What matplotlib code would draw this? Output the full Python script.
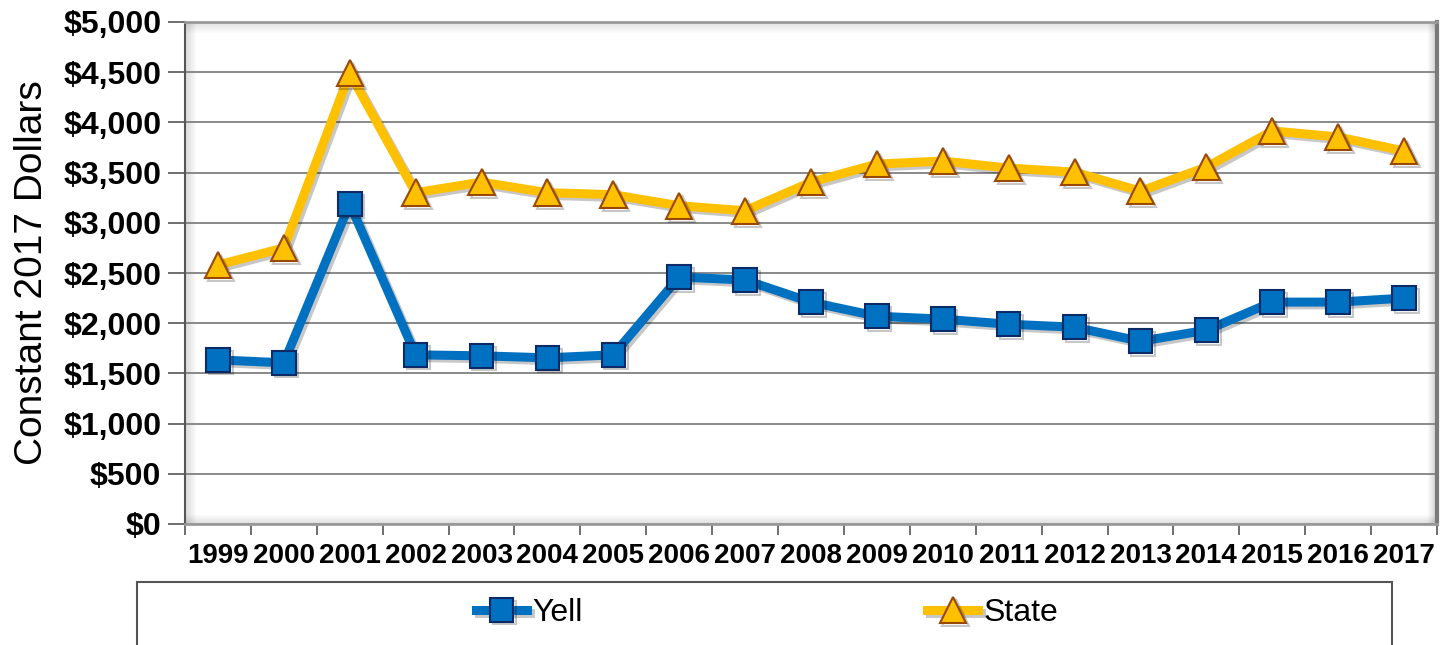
import matplotlib
matplotlib.use('Agg')
import matplotlib.pyplot as plt
import matplotlib.patheffects as pe
from matplotlib.patches import Rectangle
from matplotlib.ticker import FuncFormatter, FixedLocator

years = ['1999', '2000', '2001', '2002', '2003', '2004', '2005', '2006', '2007', '2008',
         '2009', '2010', '2011', '2012', '2013', '2014', '2015', '2016', '2017']
yell = [1635, 1605, 3190, 1685, 1675, 1655, 1685, 2460, 2430, 2210,
        2070, 2040, 1990, 1960, 1820, 1930, 2210, 2210, 2250]
state = [2580, 2750, 4490, 3300, 3405, 3300, 3280, 3170, 3120, 3405,
         3585, 3615, 3545, 3505, 3315, 3555, 3915, 3855, 3715]

plt.rcParams['font.family'] = ['Liberation Sans', 'DejaVu Sans']

W, H = 1441, 645
fig = plt.figure(figsize=(W / 100, H / 100), dpi=100)
ax = fig.add_axes([185 / W, 1 - 524 / H, (1437 - 185) / W, (524 - 22) / H])

# soft inner shadow along the plot-area edges (axes coords)
n = 10
for i in range(n):
    a = 0.10 * (1 - i / n)
    dx = (i + 0.5) / 1252
    dy = (i + 0.5) / 502
    kw = dict(color='black', lw=1, zorder=0, transform=ax.transAxes)
    ax.plot([dx, dx], [0, 1], alpha=a, **kw)
    ax.plot([1 - dx, 1 - dx], [0, 1], alpha=a * 1.5, **kw)
    ax.plot([0, 1], [dy, dy], alpha=a, **kw)
    ax.plot([0, 1], [1 - dy, 1 - dy], alpha=a * 0.8, **kw)

x = list(range(len(years)))
shadow = [pe.SimpleLineShadow(offset=(2, -2), alpha=0.22, shadow_color='black'), pe.Normal()]

ax.plot(x, yell, color='#0070C0', lw=6.5, marker='s', markersize=17,
        markerfacecolor='#0070C0', markeredgecolor='#0B2A66', markeredgewidth=1.5,
        label='Yell', path_effects=shadow, zorder=3)
ax.plot(x, state, color='#FFC000', lw=6.5, marker='^', markersize=19,
        markerfacecolor='#FFC000', markeredgecolor='#984807', markeredgewidth=1.5,
        label='State', path_effects=shadow, zorder=4)

ax.set_xlim(-0.5, len(years) - 0.5)
ax.set_ylim(0, 5000)
ax.set_yticks(range(0, 5001, 500))
ax.yaxis.set_major_formatter(FuncFormatter(lambda v, p: '${:,.0f}'.format(v)))
ax.set_xticks(x)
ax.set_xticklabels(years)
ax.xaxis.set_minor_locator(FixedLocator([i - 0.5 for i in range(len(years) + 1)]))
ax.tick_params(axis='x', which='major', length=0, pad=14, labelsize=20)
ax.tick_params(axis='x', which='minor', length=8, width=1.2, color='#555555')
ax.tick_params(axis='y', length=12, width=1.2, color='#555555', pad=5, labelsize=23)
for lab in ax.get_xticklabels() + ax.get_yticklabels():
    lab.set_fontweight('bold')

ax.grid(axis='y', color='#808080', lw=1.3)
ax.set_axisbelow(True)
for s in ['top', 'right', 'bottom']:
    ax.spines[s].set_color('#9a9a9a')
    ax.spines[s].set_linewidth(2)
ax.spines['right'].set_color('#7a7a7a')
ax.spines['right'].set_linewidth(3)
ax.spines['left'].set_color('#555555')
ax.spines['left'].set_linewidth(1.5)

ax.set_ylabel('Constant 2017 Dollars', fontsize=28)
ax.yaxis.set_label_coords(-0.108, 0.5)

fig.patches.append(Rectangle((137 / W, -0.05), (1392 - 137) / W, 0.05 + (645 - 582) / H,
                             transform=fig.transFigure, fill=False,
                             edgecolor='#555555', lw=1.5))
fig.legend(loc='center', bbox_to_anchor=(767 / W, 1 - 613 / H), ncol=2, frameon=False,
           fontsize=23, columnspacing=10.8, handlelength=1.6, handletextpad=0.15)

fig.savefig('out.png', dpi=100)
